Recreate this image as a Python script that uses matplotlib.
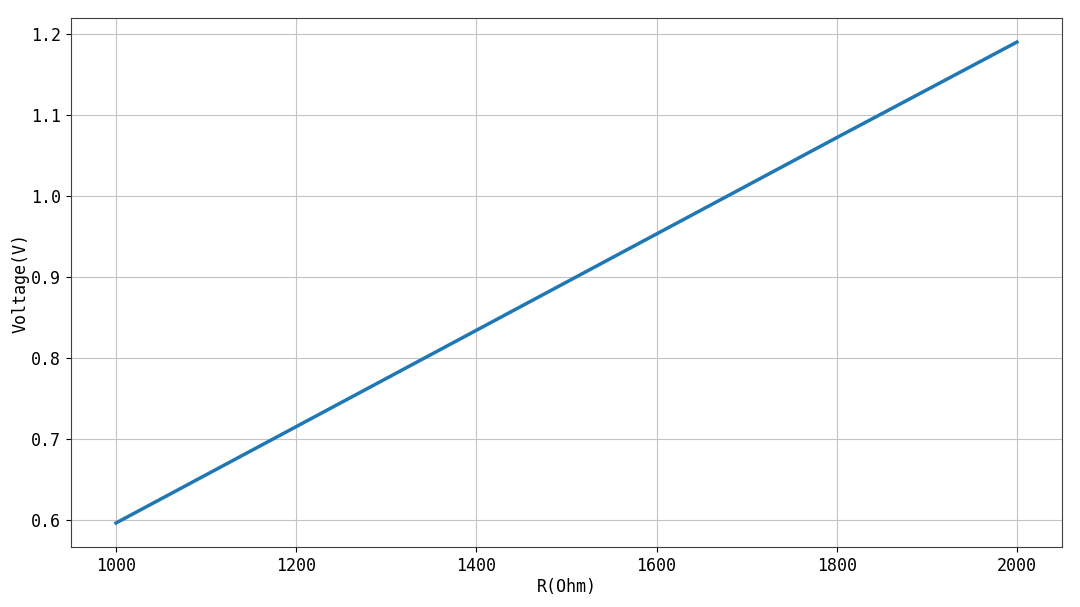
import matplotlib
matplotlib.use("Agg")
import matplotlib.pyplot as plt

plt.rcParams['font.family'] = ['DejaVu Sans Mono', 'Noto Sans CJK SC']
plt.rcParams['axes.unicode_minus'] = False

# values
r_ohm = [1000, 1200, 1400, 1600, 1800, 2000]
voltage = [0.596, 0.715, 0.834, 0.953, 1.072, 1.190]

fig = plt.figure(figsize=(10.8, 6.07), dpi=100)
ax = fig.add_axes([0.0657, 0.0988, 0.9176, 0.8715])

ax.plot(r_ohm, voltage, color='#1f77b4', linewidth=2.5)
ax.grid(True, color='#c4c4c4', linewidth=0.8)
for s in ax.spines.values():
    s.set_color('#404040')
ax.set_xlabel('R(Ohm)', fontsize=12, labelpad=2)
ax.set_ylabel('Voltage(V)', fontsize=12, labelpad=1)
ax.tick_params(labelsize=12)
ax.set_yticks([0.6, 0.7, 0.8, 0.9, 1.0, 1.1, 1.2])

fig.savefig('out.png', dpi=100)
